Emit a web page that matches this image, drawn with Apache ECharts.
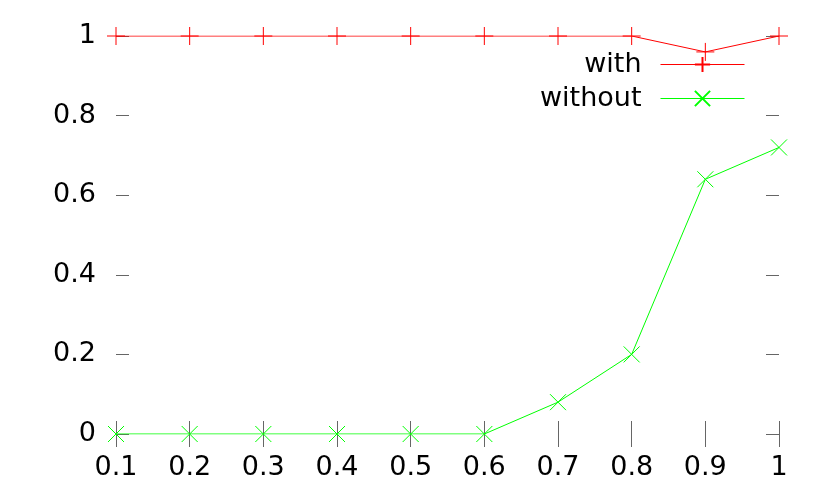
<!DOCTYPE html>
<html>
<head>
<meta charset="utf-8">
<script src="https://cdn.jsdelivr.net/npm/echarts@6/dist/echarts.min.js"></script>
<style>html,body{margin:0;padding:0;background:#fff}#c{width:830px;height:498px}</style>
</head>
<body>
<div id="c"></div>
<script>
var xValues = [0.1, 0.2, 0.3, 0.4, 0.5, 0.6, 0.7, 0.8, 0.9, 1.0];
var withValues = [1, 1, 1, 1, 1, 1, 1, 1, 0.96, 1];
var withoutValues = [0, 0, 0, 0, 0, 0, 0.08, 0.2, 0.64, 0.72];
var seriesNames = ['with', 'without'];

var font = 'DejaVu Sans';
function pairs(ys){ return xValues.map(function(x,i){ return [x, ys[i]]; }); }
var plusPath = 'path://M0,-8L0,8M-8,0L8,0';
var crossPath = 'path://M-8,-8L8,8M-8,8L8,-8';
var tickStyle = {show:true, inside:true, length:13, lineStyle:{color:'#666', width:1}};
var chart = echarts.init(document.getElementById('c'), null, {renderer:'canvas'});
chart.setOption({
  animation:false,
  backgroundColor:'#fff',
  grid:{left:116, right:51, top:36, bottom:64, containLabel:false},
  legend:{
    orient:'vertical', right:80, top:46, align:'right',
    itemWidth:84, itemHeight:19, itemGap:7,
    lineStyle:{width:1},
    textStyle:{fontFamily:font, fontSize:27, color:'#000', padding:[0,14,0,0]},
    data:seriesNames
  },
  xAxis:[
    {type:'value', min:0.1, max:1, interval:0.1, position:'bottom',
     axisLine:{show:false}, splitLine:{show:false}, axisTick:tickStyle,
     axisLabel:{fontFamily:font, fontSize:27, color:'#000', margin:20,
       formatter:function(v){ return String(Math.round(v*10)/10); }}},
    {type:'value', min:0.1, max:1, interval:0.1, position:'top',
     axisLine:{show:false}, splitLine:{show:false}, axisTick:tickStyle, axisLabel:{show:false}}
  ],
  yAxis:[
    {type:'value', min:0, max:1, interval:0.2, position:'left',
     axisLine:{show:false}, splitLine:{show:false}, axisTick:tickStyle,
     axisLabel:{fontFamily:font, fontSize:27, color:'#000', margin:20,
       formatter:function(v){ return String(Math.round(v*10)/10); }}},
    {type:'value', min:0, max:1, interval:0.2, position:'right',
     axisLine:{show:false}, splitLine:{show:false}, axisTick:tickStyle, axisLabel:{show:false}}
  ],
  series:[
    {name:seriesNames[0], type:'line', data:pairs(withValues),
     symbol:plusPath, symbolSize:18, showAllSymbol:true,
     lineStyle:{color:'#ff0000', width:1},
     itemStyle:{color:'rgba(0,0,0,0)', borderColor:'#ff0000', borderWidth:1}},
    {name:seriesNames[1], type:'line', data:pairs(withoutValues),
     symbol:crossPath, symbolSize:16, showAllSymbol:true,
     lineStyle:{color:'#00ff00', width:1},
     itemStyle:{color:'rgba(0,0,0,0)', borderColor:'#00ff00', borderWidth:1}}
  ]
});
</script>
</body>
</html>
